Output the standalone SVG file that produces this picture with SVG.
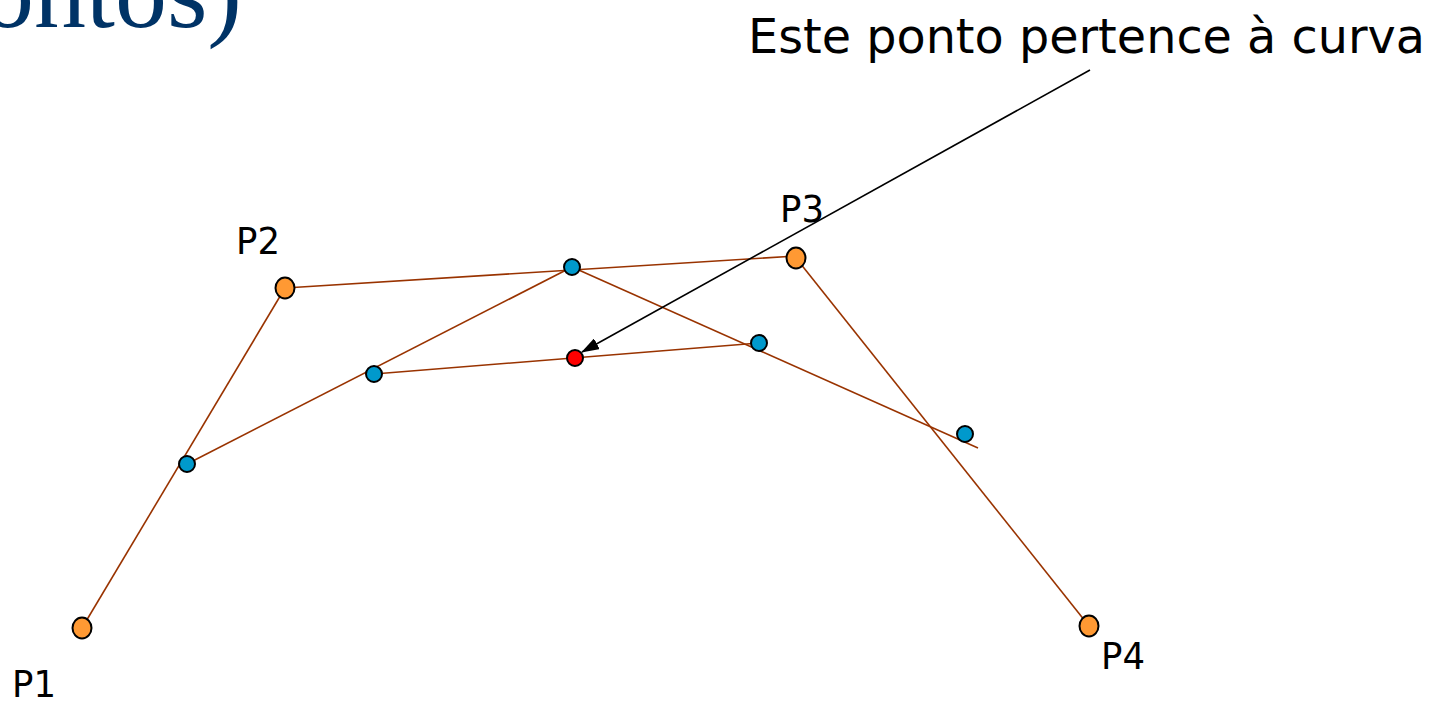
<svg xmlns="http://www.w3.org/2000/svg" width="1435" height="705" viewBox="0 0 1435 705">
  <style>
    .seg { stroke: #993300; stroke-width: 1.6; fill: none; }
    .ctrl { fill: #FF9933; stroke: #000; stroke-width: 2; }
    .mid { fill: #0099CC; stroke: #000; stroke-width: 2; }
    .hit { fill: #FF0000; stroke: #000; stroke-width: 2; }
    .lbl { font-family: "DejaVu Sans", Verdana, sans-serif; font-size: 37px; fill: #000; }
  </style>
  <defs>
    <marker id="arrow" markerWidth="18" markerHeight="12" refX="17" refY="6" orient="auto" markerUnits="userSpaceOnUse">
      <path d="M0,0 L18,6 L0,12 z" fill="#000"/>
    </marker>
  </defs>
  <rect width="1435" height="705" fill="#fff"/>

  <!-- title fragment, running off the top-left edge -->
  <text x="242" y="27" text-anchor="end" font-family="'Liberation Serif', 'Times New Roman', serif" font-size="104" fill="#003366">ontos)</text>

  <!-- caption -->
  <text x="748" y="53" font-family="'DejaVu Sans', Verdana, sans-serif" font-size="48" textLength="677" lengthAdjust="spacingAndGlyphs">Este ponto pertence à curva</text>

  <g id="connectors">
    <line class="seg" x1="82" y1="628" x2="285" y2="288"/>
    <line class="seg" x1="285" y1="288" x2="796" y2="256"/>
    <line class="seg" x1="796" y1="258" x2="1089" y2="626"/>
    <line class="seg" x1="187" y1="464" x2="572" y2="267"/>
    <line class="seg" x1="572" y1="267" x2="978" y2="448"/>
    <line class="seg" x1="374" y1="374" x2="759" y2="343"/>
    <line x1="1090" y1="70" x2="582" y2="352" stroke="#000" stroke-width="1.6" marker-end="url(#arrow)"/>
  </g>

  <g id="p1"><ellipse class="ctrl" cx="82" cy="628" rx="9.5" ry="10.5"/><text class="lbl" x="12" y="697" textLength="44" lengthAdjust="spacingAndGlyphs">P1</text></g>
  <g id="p2"><ellipse class="ctrl" cx="285" cy="288" rx="9.5" ry="10.5"/><text class="lbl" x="236" y="254" textLength="44" lengthAdjust="spacingAndGlyphs">P2</text></g>
  <g id="p3"><ellipse class="ctrl" cx="796" cy="258" rx="9.5" ry="10.5"/><text class="lbl" x="780" y="222" textLength="44" lengthAdjust="spacingAndGlyphs">P3</text></g>
  <g id="p4"><ellipse class="ctrl" cx="1089" cy="626" rx="9.5" ry="10.5"/><text class="lbl" x="1101" y="669" textLength="44" lengthAdjust="spacingAndGlyphs">P4</text></g>

  <g id="m12"><circle class="mid" cx="187" cy="464" r="8"/></g>
  <g id="m23"><circle class="mid" cx="572" cy="267" r="8"/></g>
  <g id="m34"><circle class="mid" cx="965" cy="434" r="8"/></g>
  <g id="q1"><circle class="mid" cx="374" cy="374" r="8"/></g>
  <g id="q2"><circle class="mid" cx="759" cy="343" r="8"/></g>
  <g id="curve-point"><circle class="hit" cx="575" cy="358" r="8"/></g>
</svg>
